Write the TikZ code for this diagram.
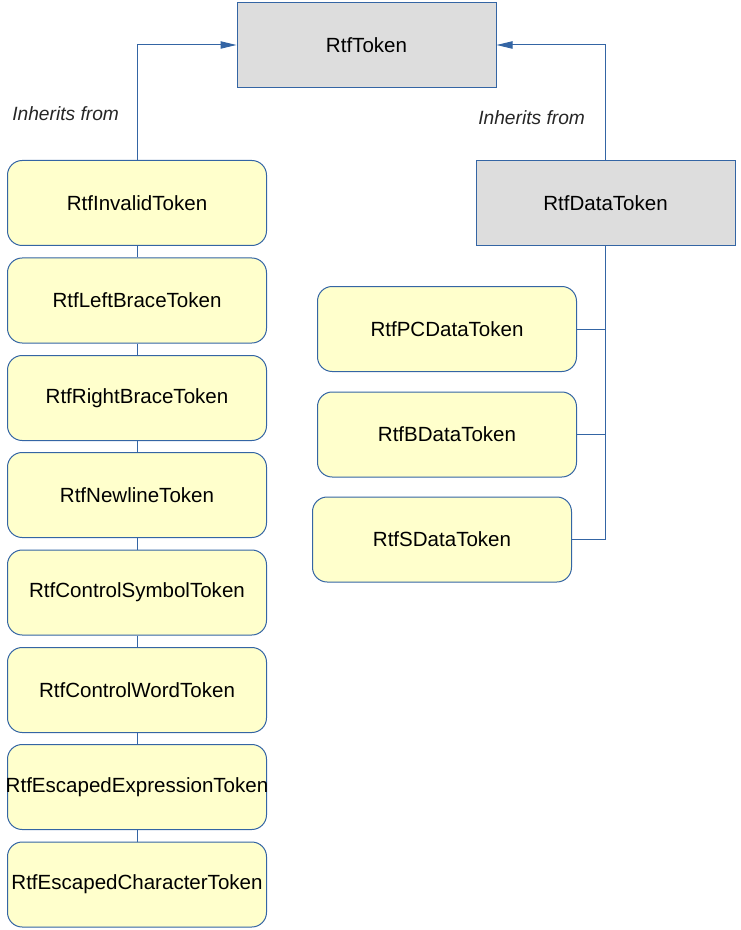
\documentclass[tikz,border=0pt]{standalone}
\usepackage{fontspec}
\setmainfont{Liberation Sans}
\usetikzlibrary{arrows.meta}
\definecolor{edge}{HTML}{3465A4}
\definecolor{boxyellow}{HTML}{FFFFCC}
\definecolor{boxgray}{HTML}{DDDDDD}
\begin{document}
\begin{tikzpicture}[x=0.75pt,y=-0.75pt,
  base/.style={draw=edge,line width=0.75pt,minimum width=194.25pt,minimum height=63.75pt,inner sep=0pt,font=\fontsize{15.4}{18}\selectfont},
  graybox/.style={base,fill=boxgray},
  yelbox/.style={base,fill=boxyellow,rounded corners=11pt},
  conn/.style={draw=edge,line width=0.75pt},
  arr/.style={conn,-{Triangle[length=12pt,width=5.5pt]}},
  lbl/.style={font=\fontsize{14.4}{17}\selectfont\itshape,text=black!85,inner sep=0pt}]
\useasboundingbox (0,0) rectangle (740,930);
\node[graybox] (tok) at (366.5,45) {RtfToken};
\node[graybox] (data) at (605.5,203) {RtfDataToken};
\node[yelbox] (inv) at (137,203) {RtfInvalidToken};
\node[yelbox] (lb) at (137,300.5) {RtfLeftBraceToken};
\node[yelbox] (rb) at (137,398) {RtfRightBraceToken};
\node[yelbox] (nl) at (137,495) {RtfNewlineToken};
\node[yelbox] (cs) at (137,592.5) {RtfControlSymbolToken};
\node[yelbox] (cw) at (137,690) {RtfControlWordToken};
\node[yelbox] (ee) at (137,787) {\makebox[0pt]{RtfEscapedExpressionToken}};
\node[yelbox] (ec) at (137,884.5) {RtfEscapedCharacterToken};
\node[yelbox] (pc) at (447,329) {RtfPCDataToken};
\node[yelbox] (bd) at (447,434.5) {RtfBDataToken};
\node[yelbox] (sd) at (442,539.5) {RtfSDataToken};
\node[lbl,anchor=west] (l1) at (12,114) {Inherits from};
\node[lbl,anchor=west] (l2) at (478,118) {Inherits from};
\draw[arr] (inv.north) |- (tok.west);
\draw[arr] (data.north) |- (tok.east);
\draw[conn] (inv) -- (lb);
\draw[conn] (lb) -- (rb);
\draw[conn] (rb) -- (nl);
\draw[conn] (nl) -- (cs);
\draw[conn] (cs) -- (cw);
\draw[conn] (cw) -- (ee);
\draw[conn] (ee) -- (ec);
\draw[conn] (data.south) |- (sd.east);
\draw[conn] (pc.east) -- (pc.east -| data.south);
\draw[conn] (bd.east) -- (bd.east -| data.south);
\end{tikzpicture}
\end{document}
